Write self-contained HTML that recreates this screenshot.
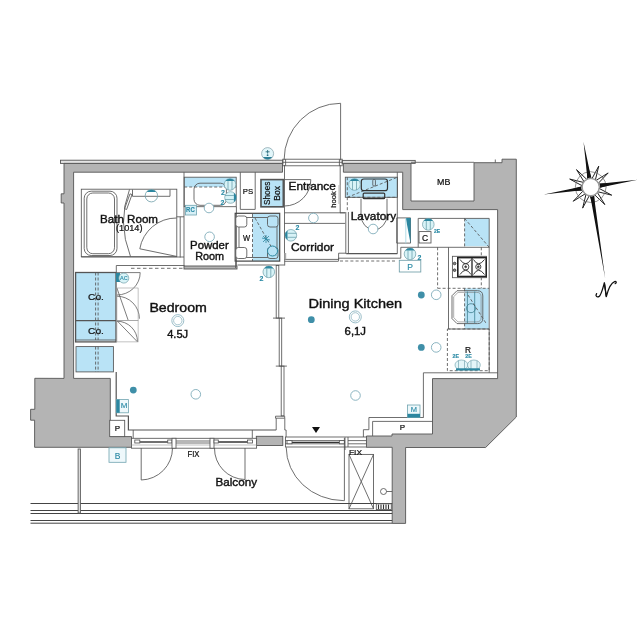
<!DOCTYPE html>
<html><head><meta charset="utf-8">
<style>
html,body{margin:0;padding:0;background:#fff;}
svg{display:block;will-change:transform;}
text{font-family:"Liberation Sans",sans-serif;fill:#111;stroke:#111;stroke-width:0.4px;}
.t,.t text{fill:#2c8ba6;stroke:#2c8ba6;stroke-width:0.15px;}
.s{stroke-width:0.22px;}
</style></head>
<body>
<svg width="640" height="640" viewBox="0 0 640 640">
<defs>
  <g id="out">
    <circle r="5.8" fill="#d8f3f7" stroke="#6f9ea8" stroke-width="0.7"/>
    <path d="M-4.7,-3.4 A5.8,5.8 0 0 1 4.7,-3.4 Z" fill="#2c87a0"/>
    <line x1="-2" y1="-3.4" x2="-2" y2="5.5" stroke="#5e96a3" stroke-width="0.7"/>
    <line x1="2" y1="-3.4" x2="2" y2="5.5" stroke="#5e96a3" stroke-width="0.7"/>
  </g>
  <g id="lamp"><circle r="4.8" fill="#fff" stroke="#7fadba" stroke-width="0.9"/></g>
  <g id="dot"><circle r="3.4" fill="#3f8fa8"/></g>
</defs>
<rect x="0" y="0" width="640" height="640" fill="#fff"/>

<!-- ===== BLUE FILLS ===== -->
<g id="blue" fill="#b9e3f6" stroke="none">
  <rect x="75.8" y="272.7" width="40" height="68"/>
  <rect x="76" y="346.6" width="37.4" height="25.3"/>
  <rect x="184" y="177.2" width="52.2" height="9.8"/>
  <rect x="260.3" y="179" width="23.5" height="28.4"/>
  <rect x="252.5" y="214" width="26.8" height="47"/>
  <rect x="345.3" y="177.2" width="52.1" height="20.1"/>
  <rect x="464.6" y="218.4" width="24.6" height="27.8"/>
  <rect x="464.6" y="288.3" width="24.1" height="40.7"/>
</g>

<!-- ===== WALLS ===== -->
<g id="walls" fill="#b4b4b4" stroke="#555" stroke-width="0.9" stroke-linejoin="miter">
  <rect x="60.5" y="160.2" width="222.3" height="3.2" fill="#e4e4e4"/>
  <rect x="342.2" y="160.4" width="73" height="3" fill="#e4e4e4"/>
  <path d="M64,163.4 L282.5,163.4 L282.5,172.2 L73.6,172.2 L73.6,378.4 L110.3,378.4 L110.3,436.6 L131.5,436.6 L131.5,447.3 L34.6,447.3 L34.6,420.2 L30.6,420.2 L30.6,409.3 L34.8,409.3 L34.8,378.3 L64,378.4 L64,203 L61.2,203 L61.2,193.8 L64,193.8 Z"/>
  <path d="M343.4,163.4 L411,163.4 L411,201 L474,201 L474,162.7 L502,162.7 L502,159.2 L516.3,159.2 L516.3,417 L485.6,447.5 L405.6,447.5 L405.6,523.4 L392.2,523.4 L392.2,447.3 L366.5,447.3 L366.5,436 L392,436 L392,434 L432.5,434 L432.5,378.6 L497.6,378.6 L497.6,209.6 L402.7,209.6 L402.7,172.2 L343.4,172.2 Z"/>
  <rect x="256.3" y="436.3" width="26.5" height="9.2" />
  <rect x="184" y="266" width="53" height="3" />
</g>

<!-- ===== THIN LINES ===== -->
<g id="lines" fill="none" stroke="#555" stroke-width="0.85">
  <line x1="411" y1="162.3" x2="474" y2="162.3"/>
  <line x1="495.3" y1="159.5" x2="495.3" y2="162.7"/>
  <!-- entrance door -->
  <rect x="282.8" y="159.2" width="59.4" height="6.6"/>
  <line x1="282.8" y1="162.3" x2="342.2" y2="162.3"/>
  <path d="M285.6,159.2 V165.8 M339.4,159.2 V165.8"/>
  <line x1="340.6" y1="103.3" x2="340.6" y2="160.3"/>
  <path d="M340.6,103.3 A56.5,56.5 0 0 0 284.1,159.8"/>
  <line x1="284.5" y1="165" x2="284.5" y2="259.4"/>
  <line x1="340.2" y1="165" x2="340.2" y2="213"/>
  <!-- bath room -->
  <rect x="81.3" y="189.2" width="95.5" height="67.5"/>
  <rect x="84.2" y="191.2" width="32.8" height="64.3" rx="7"/>
  <rect x="86.8" y="193" width="27.7" height="60.7" rx="6"/>
  <path d="M132.5,189.5 v6.8 h37.5 v-6.8"/>
  <path d="M129.5,189.5 Q117,222 130.5,256.5"/>
  <path d="M132,194.6 L126.6,209.5 L124.6,208.7 L130,193.8 Z"/>
  <path d="M176.6,218 A37,37 0 0 0 139.8,248.8 L176.6,256.4"/>
  <line x1="180.2" y1="216.8" x2="180.2" y2="257.5"/>
  <line x1="176.6" y1="216.8" x2="184" y2="216.8"/>
  <line x1="81.3" y1="257" x2="184" y2="257"/>
  <!-- powder room -->
  <line x1="184" y1="172.2" x2="184" y2="266"/>
  <line x1="236.4" y1="206.7" x2="236.4" y2="266"/>
  <rect x="184.2" y="177.2" width="52" height="29.5"/>
  <line x1="184.2" y1="187" x2="236.2" y2="187" stroke-dasharray="3,2"/>
  <rect x="194" y="183.2" width="32.4" height="22.1" rx="6"/>
  <!-- PS -->
  <path d="M240.3,172.2 V209.4 H255.2 V172.2"/>
  <!-- shoes box -->
  <rect x="261" y="179.6" width="22.3" height="27.2" stroke="#555" stroke-width="1.6"/>
  <line x1="284.5" y1="179.6" x2="310.8" y2="179.6"/>
  <path d="M310.8,179.6 A26.3,26.3 0 0 1 284.5,206"/>
  <!-- W (washer) -->
  <rect x="235.2" y="213.3" width="44.5" height="47.8" stroke="#444" stroke-width="1.2"/>
  <rect x="239" y="217.5" width="38" height="40" />
  <rect x="235.8" y="216" width="11" height="11" rx="2.5" fill="#fff"/>
  <rect x="235.8" y="247.5" width="11" height="11" rx="2.5" fill="#fff"/>
  <rect x="267.5" y="216" width="10.5" height="11" rx="2.5" fill="#b9e3f6"/>
  <rect x="267.5" y="247.5" width="10.5" height="11" rx="2.5" fill="#b9e3f6"/>
  <line x1="252.5" y1="214" x2="252.5" y2="261" stroke-dasharray="3,2"/>
  <line x1="255" y1="218" x2="277" y2="257" stroke-dasharray="3,2"/>
  <path d="M235.6,261.2 V268 M237.5,265 H284.6"/>
  <!-- entrance step -->
  <line x1="284.5" y1="212.8" x2="345.2" y2="212.8"/>
  <line x1="284.5" y1="223.4" x2="345.2" y2="223.4"/>
  <line x1="340" y1="212.8" x2="345.2" y2="212.8"/>
  <!-- corridor -->
  <path d="M284.5,259.4 H338.6 V253.2 H346.2"/>
  <line x1="284.5" y1="261.3" x2="338.6" y2="261.3"/>
  <rect x="284.4" y="253" width="1.8" height="6.4" fill="#aaa" stroke="none"/>
  <path d="M346.2,253.6 H397.4" stroke-width="1.4"/>
  <path d="M338.6,261 V258.2 H400.8 V247.3"/>
  <line x1="340" y1="261" x2="396" y2="261" stroke-dasharray="3,2.2"/>
  <line x1="345.8" y1="212" x2="345.8" y2="253.5"/>
  <line x1="348.4" y1="212" x2="348.4" y2="253.5"/>
  <!-- lavatory -->
  <line x1="397.3" y1="172.2" x2="397.3" y2="253.6"/>
  <rect x="345.3" y="177.2" width="52.1" height="20.1"/>
  <line x1="347.3" y1="177.2" x2="347.3" y2="212" stroke-dasharray="3,2"/>
  <line x1="347.3" y1="197.3" x2="397.3" y2="197.3" stroke-dasharray="3,2"/>
  <line x1="347.3" y1="197.3" x2="397.3" y2="177.3" stroke-dasharray="3,2"/>
  <rect x="361.3" y="179" width="26.2" height="11.7" rx="2.5" stroke="#333" stroke-width="1.2"/>
  <rect x="363.2" y="193.1" width="21.5" height="5.6" rx="1" stroke="#333" stroke-width="1.2"/>
  <path d="M361,198.7 V215 A13,14.8 0 0 0 387,215 V198.7"/>
  <!-- kitchen upper -->
  <path d="M396.7,217.9 h13.8 v25.2 h-13.8 z"/>
  <line x1="418.2" y1="218.4" x2="489.2" y2="218.4"/>
  <line x1="418.2" y1="218.4" x2="418.2" y2="247.3"/>
  <line x1="400.8" y1="247.3" x2="489.2" y2="247.3"/>
  <line x1="464.6" y1="218.4" x2="464.6" y2="247.3" stroke-dasharray="3,2"/>
  <line x1="464.6" y1="218.4" x2="489.2" y2="247.3" stroke-dasharray="3,2"/>
  <rect x="419" y="231.6" width="12" height="11.4"/>
  <rect x="399.3" y="260.3" width="21.5" height="11.7" stroke="#6f9ea8"/>
  <line x1="448.5" y1="247.3" x2="448.5" y2="329"/>
  <line x1="437.6" y1="247.3" x2="437.6" y2="288.3" stroke-dasharray="3,2"/>
  <line x1="437.6" y1="288.3" x2="489.2" y2="288.3" stroke-dasharray="3,2"/>
  <line x1="481.3" y1="247.3" x2="481.3" y2="288.3" stroke-dasharray="3,2"/>
  <line x1="489.2" y1="218.4" x2="489.2" y2="372.8"/>
  <!-- stove -->
  <rect x="452.4" y="256.3" width="34" height="21.4" fill="#fff"/>
  <rect x="457.8" y="257.6" width="28.4" height="18.9" stroke="#222" stroke-width="1.6" fill="#fff"/>
  <line x1="472" y1="257.6" x2="472" y2="276.5" stroke="#222" stroke-width="1.3"/>
  <circle cx="465.7" cy="266.8" r="3.2" stroke="#222"/>
  <circle cx="478.3" cy="266.8" r="2.6" stroke="#222"/>
  <circle cx="465.7" cy="266.8" r="1" fill="#222"/>
  <circle cx="478.3" cy="266.8" r="1" fill="#222"/>
  <path d="M460,259.5 Q465.7,268 471,259.5 M460,274.5 Q465.7,266 471,274.5 M473.5,259.5 Q478.3,268 484.5,259.5 M473.5,274.5 Q478.3,266 484.5,274.5" stroke="#222" stroke-width="0.9"/>
  <circle cx="454.6" cy="263.5" r="1.3" stroke="#333" fill="#888"/>
  <circle cx="454.6" cy="270.2" r="1.3" stroke="#333" fill="#888"/>
  <!-- sink -->
  <path d="M457,290.7 H477.5 Q482.8,290.7 482.8,296 V318.3 Q482.8,323.6 477.5,323.6 H457 L452,318.6 V295.7 Z" stroke="#555"/>
  <path d="M458,292.4 H476.8 Q481.1,292.4 481.1,296.7 V317.6 Q481.1,321.9 476.8,321.9 H458 L453.7,317.6 V296.7 Z" stroke="#777" stroke-width="0.6"/>
  <path d="M467.4,291.5 V323 M474.7,291.5 V323" stroke="#3d7f90" stroke-width="0.8"/>
  <circle cx="471" cy="308.2" r="4.5" stroke="#3d7f90" stroke-width="0.8"/>
  <line x1="468" y1="295" x2="486.5" y2="324" stroke-dasharray="3,2"/>
  <line x1="464.6" y1="288.3" x2="464.6" y2="329" stroke-dasharray="3,2"/>
  <line x1="448.5" y1="329" x2="489.2" y2="329"/>
  <!-- fridge -->
  <rect x="447.4" y="329" width="41.8" height="41.7" stroke-dasharray="3,2"/>
  <!-- right room line -->
  <line x1="423.4" y1="372.8" x2="497.6" y2="372.8"/>
  <line x1="423.4" y1="372.8" x2="423.4" y2="417.5"/>
  <path d="M423.6,417.5 L368.9,417.5 L368.9,429.7 L363.4,429.7 L363.4,437"/>
  <path d="M432.5,421.4 L372.6,421.4 L372.6,436"/>
  <!-- bedroom left closets -->
  <rect x="75.6" y="272.5" width="40.4" height="69.4" stroke="#555" stroke-width="1.3"/>
  <line x1="75.6" y1="320.6" x2="116" y2="320.6" stroke-width="1.3"/>
  <line x1="75.6" y1="340" x2="116" y2="340"/>
  <line x1="95.6" y1="272.5" x2="95.6" y2="340" stroke-dasharray="3,2"/>
  <line x1="98.1" y1="272.5" x2="98.1" y2="340" stroke-dasharray="3,2"/>
  <rect x="76" y="346.6" width="37.4" height="25.3"/>
  <line x1="95.6" y1="346.6" x2="95.6" y2="371.9" stroke-dasharray="3,2"/>
  <line x1="98.1" y1="346.6" x2="98.1" y2="371.9" stroke-dasharray="3,2"/>
    <!-- closet doors -->
  <path d="M116,272.6 H140.2 A23.3,22.5 0 0 1 116.9,295" stroke="#666"/>
  <path d="M116.9,296.2 A22.5,22.5 0 0 1 139.4,318.7" stroke="#666"/>
  <path d="M116.9,321.2 A20.5,20.5 0 0 1 137.5,341.6" stroke="#666"/>
  <path d="M116.9,288 L128.1,320 M116.9,320.6 L137.5,341.9" stroke="#666"/>
  <rect x="116.9" y="288" width="21.2" height="32.5" stroke="#999" stroke-width="0.6"/>
  <rect x="116.9" y="320.6" width="21.2" height="21.3" stroke="#999" stroke-width="0.6"/>
  <!-- bedroom top -->
  <path d="M116.3,272.5 V265.5 H184.5"/>
  <line x1="131" y1="268.3" x2="184.5" y2="268.3" stroke-dasharray="3.5,2.5"/>
  <!-- bedroom boundary -->
  <path d="M116.2,372 L116.2,416 L128.4,416 L128.4,430 L276.2,430" stroke-width="1.2"/>
  <line x1="133.2" y1="430" x2="133.2" y2="438.3"/>
  <line x1="252.3" y1="430" x2="252.3" y2="438.3"/>
  <!-- partition sliding -->
  <rect x="276.2" y="265.5" width="2.6" height="52.6"/>
  <rect x="279.2" y="318.1" width="2.5" height="48"/>
  <rect x="281.2" y="366.1" width="2.8" height="49.8"/>
  <line x1="273" y1="318.1" x2="285" y2="318.1"/>
  <line x1="275.8" y1="366.1" x2="286.9" y2="366.1"/>
  <path d="M275.5,416.2 H284.7 V418.2 H275.5 Z"/>
  <path d="M276.2,418.2 V430 M284.8,418.2 V430 H286.1 V444"/>
  
  <line x1="284.7" y1="259.4" x2="284.7" y2="265.5"/>
  <!-- windows -->
  <rect x="131.5" y="438.3" width="125.1" height="9.9" fill="#fff"/>
  <line x1="140" y1="442" x2="168" y2="442" stroke="#333" stroke-width="1.4"/>
  <line x1="214" y1="442" x2="247" y2="442" stroke="#333" stroke-width="1.4"/>
  <line x1="176" y1="441" x2="210" y2="441"/>
  <line x1="176" y1="443" x2="210" y2="443"/>
  <line x1="131.5" y1="445" x2="256.6" y2="445" stroke="#999" stroke-width="0.6"/>
  <rect x="134.8" y="440" width="5" height="3" fill="#fff"/>
  <rect x="167.7" y="440" width="4.3" height="3" fill="#fff"/>
  <rect x="172" y="438.3" width="4" height="9.9" fill="#fff"/>
  <rect x="210" y="438.3" width="4" height="9.9" fill="#fff"/>
  <rect x="214" y="440" width="4.3" height="3" fill="#fff"/>
  <rect x="247.5" y="440" width="5" height="3" fill="#fff"/>
  <rect x="285.4" y="437" width="81" height="10" fill="#fff"/>
  <line x1="285.4" y1="440.6" x2="345" y2="440.6"/>
  <line x1="292" y1="442.4" x2="339" y2="442.4" stroke="#333" stroke-width="1.4"/>
  <line x1="285.4" y1="443.8" x2="345" y2="443.8"/>
  <line x1="348" y1="440.6" x2="366.5" y2="440.6"/>
  <line x1="348" y1="443.8" x2="366.5" y2="443.8"/>
  <rect x="287" y="440.6" width="5" height="3.2" fill="#fff"/>
  <rect x="339.4" y="440.6" width="5" height="3.2" fill="#fff"/>
  <line x1="348" y1="437" x2="348" y2="447"/>
  <line x1="345" y1="437.2" x2="345" y2="450"/>
  <!-- balcony doors -->
  <path d="M141.2,448 L141.2,480 A32,32 0 0 0 172.5,448"/>
  <path d="M245,448 L245,479.5 A31,31 0 0 1 214.5,448"/>
  <path d="M344.4,438 L344.4,500.6 L343.1,500.6 A57.5,53.5 0 0 1 286.2,447.3"/>
  <rect x="349" y="454.4" width="24.5" height="54.4"/>
  <line x1="349" y1="454.4" x2="373.5" y2="508.8"/>
  <line x1="373.5" y1="454.4" x2="349" y2="508.8"/>
  <!-- balcony rails -->
  <g stroke="#444" stroke-width="1">
  <line x1="30.5" y1="503.5" x2="392.2" y2="503.5"/>
  <line x1="30.5" y1="510.5" x2="392.2" y2="510.5"/>
  <line x1="30.5" y1="513.5" x2="392.2" y2="513.5"/>
  <line x1="30.5" y1="520.5" x2="392.2" y2="520.5"/>
  <line x1="30.5" y1="523.2" x2="392.2" y2="523.2"/>
  </g>
  <rect x="78.1" y="449" width="2.3" height="64" fill="#ddd"/>
  <circle cx="383.5" cy="491.5" r="3"/>
  <line x1="386.5" y1="491.5" x2="392.2" y2="491.5"/>
  <rect x="376.3" y="503.8" width="15" height="5.8" fill="#fff"/>
  <path d="M378.5,504.5 v4.5 M381,504.5 v4.5 M383.5,504.5 v4.5 M386,504.5 v4.5 M388.5,504.5 v4.5" stroke="#333" stroke-width="1.1"/>
  <!-- boxes -->
  <rect x="109.7" y="420.3" width="15" height="16.3" fill="#fff"/>
</g>

<!-- small boxes teal -->
<g fill="none" stroke="#6fa3b0" stroke-width="0.8">
  <rect x="109" y="447.8" width="17" height="14.5" fill="#eef8fb"/>
  <rect x="116.3" y="399.6" width="12.2" height="13.2" fill="#eef8fb"/>
  <rect x="407.5" y="405" width="12.5" height="12.5" fill="#eef8fb"/>
  <rect x="185.5" y="205.3" width="10.9" height="9.7" fill="#d8f0f7"/>
</g>
<rect x="116.3" y="399.6" width="3.4" height="13.2" fill="#2c87a0"/>
<rect x="407.5" y="413.8" width="12.5" height="3.7" fill="#2c87a0"/>
<rect x="116" y="273" width="4" height="9" fill="#2c87a0"/>
<circle cx="123.8" cy="278.1" r="5" fill="#d8f3f7" stroke="#6f9ea8" stroke-width="0.7"/>

<!-- ===== FIXTURES ===== -->
<g id="fix">
  <g transform="translate(267.6,153.6)">
    <circle r="6" fill="#e2f6fa" stroke="#7f9ea6" stroke-width="0.7"/>
    <path d="M-4.8,3.4 A6,6 0 0 0 4.8,3.4 Z" fill="#2c7f96"/>
    <path d="M-2,-1.8 H2 M0,-3.6 V0" stroke="#2c6f80" stroke-width="0.9"/>
    <circle cx="0" cy="1.6" r="0.9" fill="#2c6f80"/>
  </g>
  <use href="#out" transform="translate(268.8,271.9)"/>
  <use href="#out" transform="translate(290.9,235.3) rotate(-90)"/>
  <use href="#out" transform="translate(230,184.5)"/>
  <use href="#out" transform="translate(230.5,197.5) rotate(90)"/>
  <use href="#out" transform="translate(428.3,224.4)"/>
  <use href="#out" transform="translate(410,253.9)"/>
  <use href="#out" transform="translate(354.5,184.5)"/>
  <rect x="372.8" y="179.5" width="2.6" height="6.5" rx="1" fill="#c9e9f7" stroke="#333" stroke-width="0.7"/>
  <g stroke="#7aa8b2" stroke-width="0.7" fill="#e4f6f9">
   <ellipse cx="461.4" cy="365" rx="6.4" ry="5"/>
   <ellipse cx="473.9" cy="365" rx="6.4" ry="5"/>
   <path d="M458.5,360.5 V369.5 M464.5,360.5 V369.5 M471,360.5 V369.5 M477,360.5 V369.5" fill="none"/>
  </g>
  <rect x="456" y="368.3" width="24" height="2.2" fill="#2c87a0"/>
  <circle cx="151.4" cy="195.7" r="6.2" fill="none" stroke="#6f9ea8" stroke-width="0.8"/>
  <path d="M146.6,192 A6.2,6.2 0 0 1 156.2,192 Z" fill="#2c87a0"/>
  <use href="#lamp" x="209.6" y="236.8"/>
  <use href="#lamp" x="209" y="208"/>
  <use href="#lamp" x="313.4" y="218"/>
  <use href="#lamp" x="373.1" y="229"/>
  <use href="#lamp" x="436.2" y="294.8"/>
  <use href="#lamp" x="436.2" y="347.4"/>
  <use href="#lamp" x="195.8" y="394.3"/>
  <use href="#lamp" x="355.5" y="395.5"/>
    <circle cx="177.8" cy="320.6" r="6" fill="#fff" stroke="#8fb6c2" stroke-width="0.9"/>
  <circle cx="177.8" cy="320.6" r="4.2" fill="none" stroke="#8fb6c2" stroke-width="0.8"/>
  <circle cx="355.3" cy="316.9" r="6" fill="#fff" stroke="#8fb6c2" stroke-width="0.9"/>
  <circle cx="355.3" cy="316.9" r="4.2" fill="none" stroke="#8fb6c2" stroke-width="0.8"/>
  <use href="#dot" x="133.3" y="390.1"/>
  <use href="#dot" x="311.3" y="319.7"/>
  <use href="#dot" x="421.3" y="295"/>
  <use href="#dot" x="421.3" y="347.4"/>
  <path d="M312,427 h8 l-4,6 z" fill="#111"/>
  <path d="M405.8,218 L410.7,218 L410.5,243.5 Z" fill="#2c87a0"/><line x1="405.8" y1="218" x2="405.8" y2="243.5" stroke="#9fd3e0" stroke-width="0.8"/>
  <path d="M262,238 l8,2 M266,235 l0,8 M263,236 l6,6 M269,236 l-6,6" stroke="#2c87a0" stroke-width="0.8"/>
  <circle cx="272.5" cy="251" r="5" fill="#b9e3f6" stroke="#2c87a0" stroke-width="1"/>
</g>

<!-- ===== TEXT ===== -->
<g id="text">
  <text x="100" y="222.5" font-size="11.5" textLength="58" lengthAdjust="spacingAndGlyphs">Bath Room</text>
  <text class="s" x="116" y="231.3" font-size="8.5" textLength="26.5" lengthAdjust="spacingAndGlyphs">(1014)</text>
  <text x="190.1" y="249.4" font-size="11.5" textLength="38.6" lengthAdjust="spacingAndGlyphs">Powder</text>
  <text x="195.2" y="259.6" font-size="11.5" textLength="28.9" lengthAdjust="spacingAndGlyphs">Room</text>
  <text x="288.5" y="189.9" font-size="11.5" textLength="47.3" lengthAdjust="spacingAndGlyphs">Entrance</text>
  <text x="291" y="250.9" font-size="11.5" textLength="43" lengthAdjust="spacingAndGlyphs">Corridor</text>
  <text x="350.8" y="219.5" font-size="11.5" textLength="45.3" lengthAdjust="spacingAndGlyphs">Lavatory</text>
  <text x="149.4" y="312.3" font-size="13.5" textLength="57.5" lengthAdjust="spacingAndGlyphs">Bedroom</text>
  <text x="167.2" y="338.1" font-size="11" textLength="20.9" lengthAdjust="spacingAndGlyphs">4.5J</text>
  <text x="308.4" y="308.4" font-size="13.5" textLength="93.8" lengthAdjust="spacingAndGlyphs">Dining Kitchen</text>
  <text x="344.6" y="334.7" font-size="11" textLength="21.4" lengthAdjust="spacingAndGlyphs">6,1J</text>
  <text class="s" x="437" y="185.3" font-size="8.7" textLength="13.3" lengthAdjust="spacingAndGlyphs">MB</text>
  <text x="215.5" y="486" font-size="11.5" textLength="41.5" lengthAdjust="spacingAndGlyphs">Balcony</text>
  <text class="s" x="187.5" y="456.7" font-size="8.3" textLength="12" lengthAdjust="spacingAndGlyphs">FIX</text>
  <text class="s" x="349" y="455.3" font-size="8" textLength="13" lengthAdjust="spacingAndGlyphs">FIX</text>
  <text class="s" x="242.8" y="193.8" font-size="7.7" textLength="10.4" lengthAdjust="spacingAndGlyphs">PS</text>
  <text class="s" x="243.1" y="240.5" font-size="8.2" textLength="7.1" lengthAdjust="spacingAndGlyphs">W</text>
  <text class="s" x="88.1" y="299.5" font-size="8.6" textLength="15.8" lengthAdjust="spacingAndGlyphs">Co.</text>
  <text class="s" x="88.1" y="334.2" font-size="8.6" textLength="15.8" lengthAdjust="spacingAndGlyphs">Co.</text>
  <text class="s" x="117.3" y="430.8" font-size="8" text-anchor="middle">P</text>
  <text x="410" y="269.6" font-size="8.5" text-anchor="middle" class="t">P</text>
  <text class="s" x="402.5" y="429.8" font-size="8" text-anchor="middle">P</text>
  <text class="s" x="468" y="352.8" font-size="8.3" text-anchor="middle">R</text>
  <text class="s" x="425" y="241.3" font-size="8.5" text-anchor="middle">C</text>
  <text x="117.5" y="458.5" font-size="8.5" text-anchor="middle" class="t">B</text>
  <text x="124.2" y="408.4" font-size="8" text-anchor="middle" class="t">M</text>
  <text x="413.8" y="412.4" font-size="7.5" text-anchor="middle" class="t">M</text>
  <text class="s" transform="translate(270.2,193.3) rotate(-90)" font-size="8.3" text-anchor="middle">Shoes</text>
  <text class="s" transform="translate(279.6,193.4) rotate(-90)" font-size="8.5" text-anchor="middle">Box</text>
  <text class="s" transform="translate(336.3,199.4) rotate(-90)" font-size="7.6" text-anchor="middle">hook</text>
  <rect x="338.4" y="185" width="1.8" height="19" fill="#c4c4c4"/>
  <text x="186.1" y="211.9" font-size="7.6" class="t" font-weight="bold" textLength="8.6" lengthAdjust="spacingAndGlyphs">RC</text>
  <text x="123.8" y="280.3" font-size="5.5" text-anchor="middle" class="t">AC</text>
  <g font-size="7" class="t" font-weight="bold">
    <text x="295.5" y="230">2</text>
    <text x="259.5" y="281">2</text>
    <text x="417.5" y="259.5">2</text>
    <text x="221" y="194.5">2</text>
    <text x="220.5" y="204.5">2</text>
    <text class="s" x="434" y="233" font-size="5">2E</text>
    <text class="s" x="452.5" y="358.3" font-size="5.5" textLength="6.5" lengthAdjust="spacingAndGlyphs">2E</text>
    <text class="s" x="465.3" y="358.3" font-size="5.5" textLength="6.5" lengthAdjust="spacingAndGlyphs">2E</text>
  </g>
</g>

<!-- ===== COMPASS ===== -->
<g id="compass">
  <path d="M587.18,164.88 L591.48,179.64 L598.76,166.09 L595.11,181.03 L608.19,172.94 L597.55,184.05 L612.92,183.58 L598.16,187.88 L611.71,195.16 L596.77,191.51 L604.86,204.59 L593.75,193.95 L594.22,209.32 L589.92,194.56 L582.64,208.11 L586.29,193.17 L573.21,201.26 L583.85,190.15 L568.48,190.62 L583.24,186.32 L569.69,179.04 L584.63,182.69 L576.54,169.61 L587.65,180.25 Z" fill="none" stroke="#222" stroke-width="1" stroke-linejoin="miter"/>
  <circle cx="590.7" cy="187.1" r="15.4" fill="none" stroke="#666" stroke-width="0.7"/>
  <path d="M587.45,178.17 L583.50,141.67 L591.03,177.61 Z M599.63,183.85 L637.62,179.67 L600.19,187.43 Z M593.95,196.03 L605.17,278.46 L590.37,196.59 Z M581.77,190.35 L543.78,194.53 L581.21,186.77 Z" fill="#111"/>
  <circle cx="590.7" cy="187.1" r="8.6" fill="#fff" stroke="#999" stroke-width="1.5"/>
  <circle cx="590.7" cy="187.1" r="7.6" fill="#fff" stroke="none"/>
</g>
<path d="M596.6,293.6 C595,296 597,297.6 599.2,296.4 C601.2,295 602.6,289 604.4,282.8 L606.3,296.6 C608,290 610.5,283 614.6,281.6 C616.6,281 616.8,283.2 615.2,283.6" fill="none" stroke="#111" stroke-width="1.3" stroke-linecap="round" stroke-linejoin="round"/>
<path d="M604.4,282.8 L606.3,296.6 L605.2,289 Z" fill="#111" stroke="#111" stroke-width="0.8"/>
</svg>
</body></html>
